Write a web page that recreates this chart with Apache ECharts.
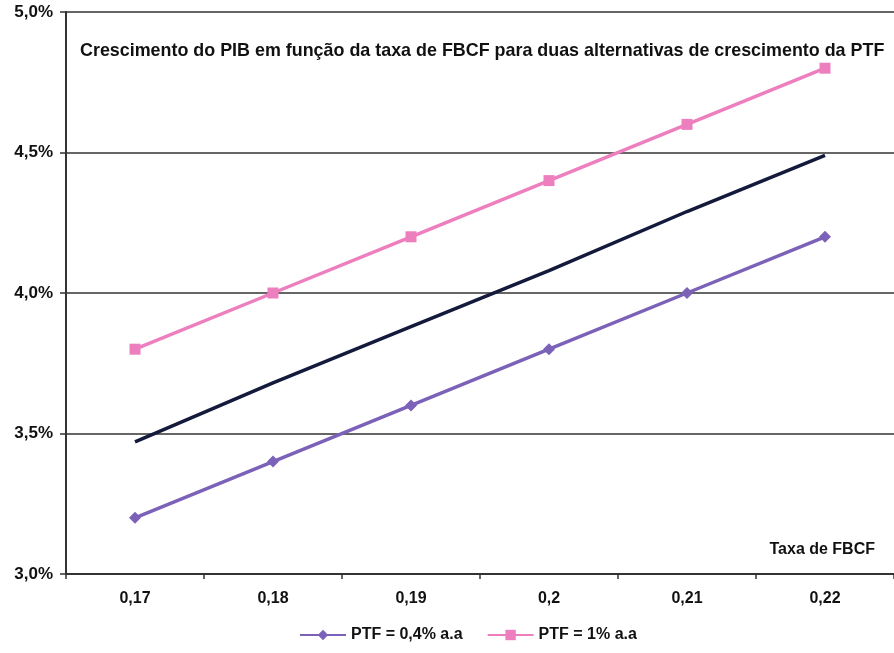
<!DOCTYPE html>
<html>
<head>
<meta charset="utf-8">
<script src="https://cdn.jsdelivr.net/npm/echarts@6/dist/echarts.min.js"></script>
<style>
  html, body { margin: 0; padding: 0; background: #fff; }
  #chart { width: 894px; height: 653px; }
</style>
</head>
<body>
<div id="chart"></div>
<script>
// FBCF rate (x axis categories)
const categories = ['0,17', '0,18', '0,19', '0,2', '0,21', '0,22'];
// GDP growth (%) for each TFP growth alternative
const ptf04 = [3.2, 3.4, 3.6, 3.8, 4.0, 4.2];
const ptf1 = [3.8, 4.0, 4.2, 4.4, 4.6, 4.8];
const intermediate = [3.47, 3.68, 3.88, 4.08, 4.29, 4.49];
const yTicks = [3.0, 3.5, 4.0, 4.5, 5.0];

const FONT = '"Liberation Sans", Arial, sans-serif';
const chart = echarts.init(document.getElementById('chart'));

chart.setOption({
  animation: false,
  backgroundColor: '#fff',
  title: {
    text: 'Crescimento do PIB em função da taxa de FBCF para duas alternativas de crescimento da PTF',
    left: 75,
    top: 37,
    textStyle: { fontFamily: FONT, fontSize: 17.9, fontWeight: 'bold', color: '#111' }
  },
  legend: {
    bottom: 5,
    left: 294,
    itemWidth: 46,
    itemHeight: 13,
    itemGap: 24,
    textStyle: { fontFamily: FONT, fontSize: 16, fontWeight: 'bold', color: '#111' },
    data: ['PTF = 0,4% a.a', 'PTF = 1% a.a']
  },
  grid: { left: 66, right: -8, top: 12, bottom: 79, containLabel: false },
  xAxis: {
    type: 'category',
    data: categories,
    boundaryGap: true,
    name: 'Taxa de FBCF',
    nameLocation: 'end',
    nameGap: 0,
    nameTextStyle: {
      fontFamily: FONT, fontSize: 16, fontWeight: 'bold', color: '#111',
      align: 'right', verticalAlign: 'bottom', padding: [0, 19, 16, 0]
    },
    axisLine: { lineStyle: { color: '#333', width: 2 } },
    axisTick: { show: true, inside: false, length: 5, alignWithLabel: false, lineStyle: { color: '#333', width: 1.5 } },
    axisLabel: { fontFamily: FONT, fontSize: 16, fontWeight: 'bold', color: '#111', margin: 17 },
    splitLine: { show: false }
  },
  yAxis: {
    type: 'value',
    min: yTicks[0],
    max: yTicks[yTicks.length - 1],
    interval: 0.5,
    axisLine: { show: true, lineStyle: { color: '#333', width: 2 } },
    axisTick: { show: true, length: 6, lineStyle: { color: '#333', width: 1.5 } },
    axisLabel: {
      fontFamily: FONT, fontSize: 17, fontWeight: 'bold', color: '#111', margin: 13,
      formatter: v => v.toFixed(1).replace('.', ',') + '%'
    },
    splitLine: { show: true, lineStyle: { color: '#333', width: 1.5 } }
  },
  series: [
    {
      name: 'PTF = 0,4% a.a',
      type: 'line',
      data: ptf04,
      symbol: 'diamond',
      symbolSize: 12,
      color: '#7B62B8',
      lineStyle: { width: 3.5, color: '#7B62B8' },
      itemStyle: { color: '#7B62B8' }
    },
    {
      name: 'PTF = 1% a.a',
      type: 'line',
      data: ptf1,
      symbol: 'rect',
      symbolSize: 11,
      color: '#EE7FBF',
      lineStyle: { width: 3.5, color: '#EE7FBF' },
      itemStyle: { color: '#EE7FBF' }
    },
    {
      name: 'intermediária',
      type: 'line',
      data: intermediate,
      symbol: 'none',
      lineStyle: { width: 3.5, color: '#141a3c' }
    }
  ]
});
</script>
</body>
</html>
